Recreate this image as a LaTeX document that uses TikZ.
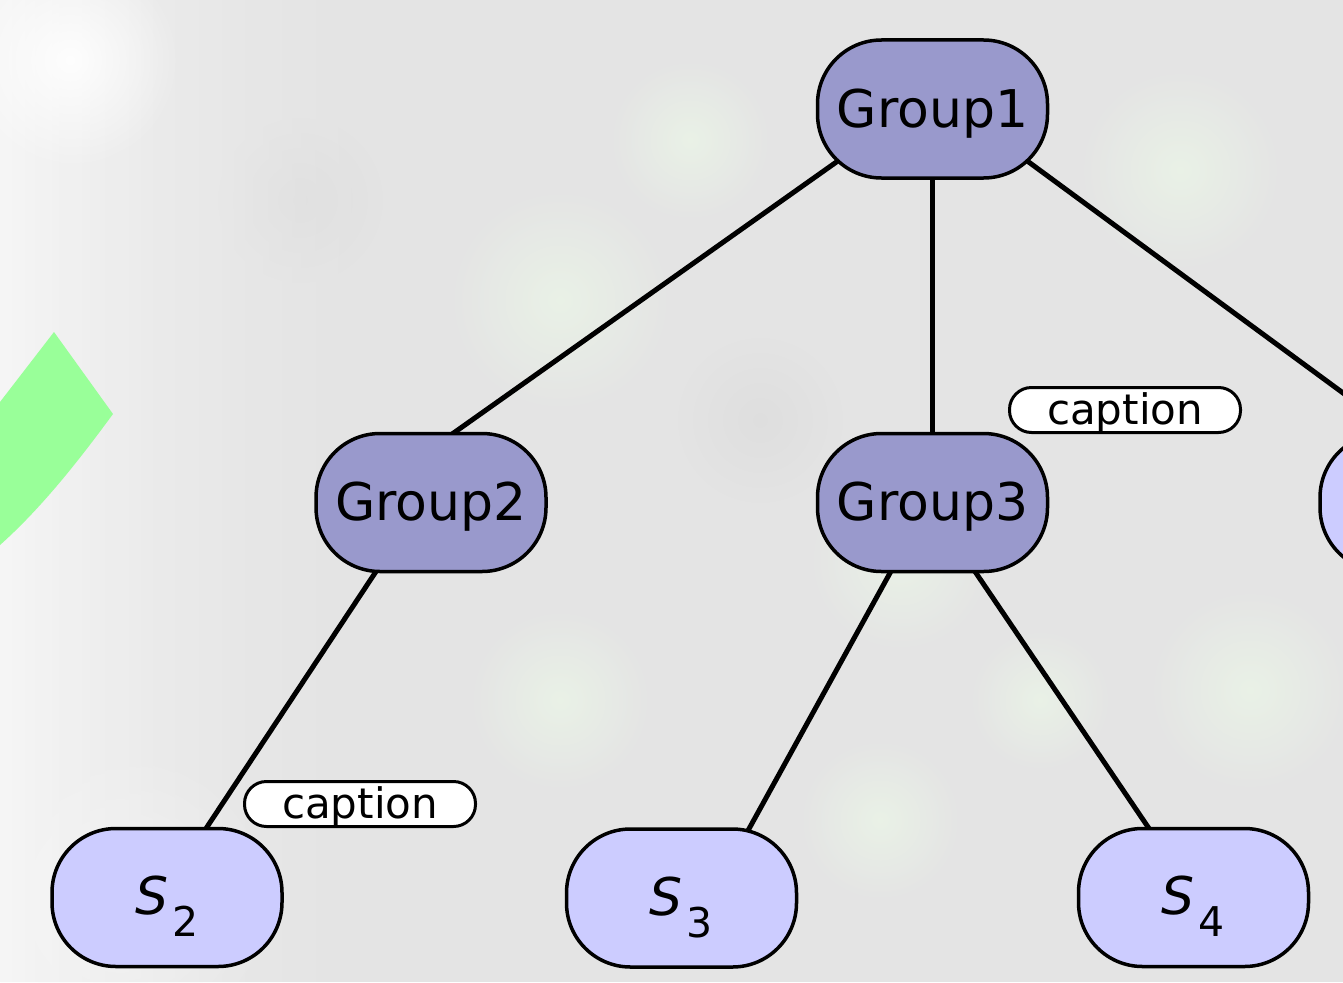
\documentclass[tikz,border=0pt]{standalone}
\usepackage{fontspec}
\setmainfont{DejaVu Sans}
\usetikzlibrary{calc,fadings}
\definecolor{grpfill}{HTML}{9999CC}
\definecolor{leaffill}{HTML}{CCCCFF}
\definecolor{bgmid}{HTML}{E4E4E4}
\definecolor{bglight}{HTML}{F6F6F6}
\definecolor{greenband}{HTML}{99FF99}
\definecolor{blobgreen}{HTML}{E9F1E6}
\definecolor{blobgrey}{HTML}{DEDEDE}
\tikzfading[name=fuzzy, inner color=transparent!0, outer color=transparent!100]
\pgfdeclarelayer{bg}
\pgfdeclarelayer{edgelayer}
\pgfsetlayers{bg,edgelayer,main}
\tikzset{
  groupbox/.style={draw=black, line width=3.5pt, fill=grpfill, rounded corners=64pt,
    minimum width=230pt, minimum height=138pt, inner sep=0pt,
    text height=44pt, text depth=8pt,
    font=\fontsize{52}{60}\selectfont},
  leafbox/.style={groupbox, fill=leaffill, text height=44pt, text depth=10pt},
  capbox/.style={draw=black, line width=3pt, fill=white, rounded corners=22pt,
    minimum width=231pt, minimum height=45pt, inner sep=0pt,
    text height=32pt, text depth=4pt,
    font=\fontsize{42}{48}\selectfont},
  edge/.style={draw=black, line width=5pt},
  gblob/.style={inner color=blobgreen, outer color=bgmid},
  dblob/.style={inner color=blobgrey, outer color=bgmid}
}
\newcommand{\leafname}[1]{{\fontsize{52}{60}\selectfont\itshape S}\kern4pt\raisebox{-22pt}{\fontsize{41}{46}\selectfont #1}}
\begin{document}
\begin{tikzpicture}[x=1pt,y=-1pt]
\useasboundingbox (0,0) rectangle (1343,982);
\clip (0,0) rectangle (1343,982);
% nodes
\node[groupbox] (g1) at (932.5,109) {Group1};
\node[groupbox] (g2) at (431,502.5) {Group2};
\node[groupbox] (g3) at (932.5,502.5) {Group3};
\node[leafbox] (r) at (1435,502.5) {};
\node[leafbox] (s2) at (167,897.5) {\leafname{2}};
\node[leafbox] (s3) at (681.5,898) {\leafname{3}};
\node[leafbox] (s4) at (1193.5,897.5) {\leafname{4}};
\node[capbox] (c1) at (1125,410) {caption};
\node[capbox] (c2) at (360,804) {caption};
% background
\begin{pgfonlayer}{bg}
  \fill[bgmid] (0,0) rectangle (1343,982);
  \shade[gblob] (560,300) circle (110);
  \shade[gblob] (690,140) circle (80);
  \shade[gblob] (900,560) circle (90);
  \shade[gblob] (1180,170) circle (100);
  \shade[gblob] (560,700) circle (90);
  \shade[gblob] (1040,700) circle (70);
  \shade[gblob] (1250,690) circle (100);
  \shade[gblob] (880,820) circle (80);
  \shade[dblob] (300,200) circle (90);
  \shade[dblob] (760,420) circle (90);
  \shade[left color=bglight, right color=bgmid, path fading=east] (0,0) rectangle (420,982);
  \fill[white, path fading=fuzzy, opacity=0.9] (70,60) circle (110);
  \fill[bglight, path fading=fuzzy, opacity=0.6] (120,900) circle (160);
  \fill[greenband] (0,402) -- (54,332) -- (113,414)
     .. controls (85,452) and (45,505) .. (0,545) -- cycle;
\end{pgfonlayer}
% edges
\begin{pgfonlayer}{edgelayer}
  \coordinate (e1a) at ($(g1.center)+(-97.5,54)$);
  \coordinate (e1b) at ($(g2.center)+(24,-70.5)$);
  \draw[edge] ($(e1a)!-14pt!(e1b)$) -- ($(e1b)!-14pt!(e1a)$);
  \draw[edge] (g1.center) -- (g3.center);
  \coordinate (e3a) at ($(g1.center)+(24,0)$);
  \coordinate (e3b) at ($(r.center)+(-13,-51.5)$);
  \draw[edge] (e3a) -- (e3b);
  \coordinate (e4a) at ($(g2.center)+(-56,70.5)$);
  \coordinate (e4b) at ($(s2.center)+(40,-70.5)$);
  \draw[edge] ($(e4a)!-14pt!(e4b)$) -- ($(e4b)!-14pt!(e4a)$);
  \coordinate (e5a) at ($(g3.center)+(-42.5,70.5)$);
  \coordinate (e5b) at ($(s3.center)+(68.5,-71)$);
  \draw[edge] ($(e5a)!-14pt!(e5b)$) -- ($(e5b)!-14pt!(e5a)$);
  \coordinate (e6a) at ($(g3.center)+(43.5,70.5)$);
  \coordinate (e6b) at ($(s4.center)+(-45.5,-70.5)$);
  \draw[edge] ($(e6a)!-14pt!(e6b)$) -- ($(e6b)!-14pt!(e6a)$);
\end{pgfonlayer}
\end{tikzpicture}
\end{document}
